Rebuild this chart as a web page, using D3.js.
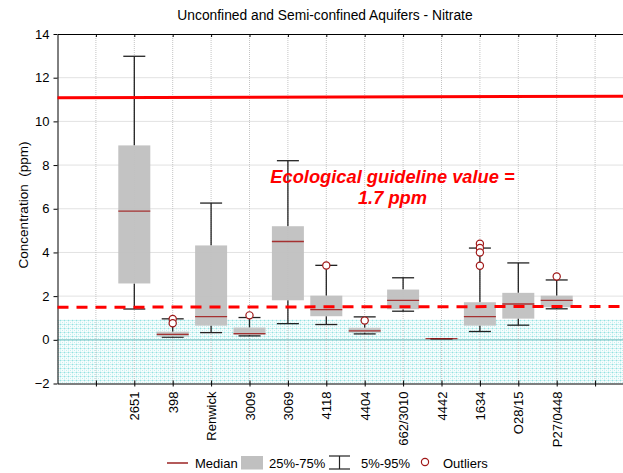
<!DOCTYPE html>
<html><head><meta charset="utf-8">
<script src="https://cdn.jsdelivr.net/npm/d3@7"></script>
<style>body{margin:0;background:#fff}svg{display:block;font-family:Arial,"Liberation Sans",sans-serif}</style>
</head><body><svg id="c" width="623" height="473"></svg>
<script>
// ---- data ----
const categories = ["", "2651","398","Renwick","3009","3069","4118","4404","662/3010","4442","1634","O28/15","P27/0448",""];
const p05    = [1.41, 0.12, 0.33, 0.18, 0.74, 0.70, 0.27, 1.31, 0.05, 0.38, 0.67, 1.42];
const q1     = [2.58, 0.15, 0.65, 0.22, 1.81, 1.08, 0.33, 1.40, 0.05, 0.65, 0.97, 1.49];
const median = [5.89, 0.25, 1.06, 0.28, 4.50, 1.38, 0.41, 1.81, 0.05, 1.06, 1.64, 1.81];
const q3     = [8.90, 0.37, 4.32, 0.56, 5.20, 2.02, 0.55, 2.30, 0.05, 1.72, 2.15, 2.02];
const p95    = [12.98,0.96, 6.26, 1.02, 8.20, 3.41, 1.05, 2.84, 0.05, 4.20, 3.52, 2.74];
const outliers = [[],[0.95,0.76],[],[1.12],[],[3.40],[0.88],[],[],[4.40,4.20,4.00,3.39],[],[2.90]];
const yTicks = [-2,0,2,4,6,8,10,12,14];
const drinkingLine = [11.08, 11.15];   // solid red line (left, right)
const ecoLine = [1.49, 1.53];          // dashed red line (left, right)
const bandTop = 0.93;                  // cyan band upper value
const titleText = "Unconfined and Semi-confined Aquifers - Nitrate";
const yLabel = "Concentration  (ppm)";
const annotation = ["Ecological guideline value =", "1.7 ppm"];
const legendItems = ["Median", "25%-75%", "5%-95%", "Outliers"];

// ---- layout ----
const svg = d3.select("#c");
const L = 57.5, T = 34, B = 383.5, R = 633.5;
const x = d3.scalePoint().domain(d3.range(categories.length)).range([L, R]).padding(1);
const y = d3.scaleLinear().domain([-2, 14]).range([B, T]);
const boxW = 32, capW = 22;
const red = "#ff0000", medCol = "#a01818", boxCol = "#c0c0c0", whisk = "#222";

const defs = svg.append("defs");
const pat = defs.append("pattern").attr("id","dots").attr("patternUnits","userSpaceOnUse")
  .attr("width",4).attr("height",4);
pat.append("rect").attr("width",4).attr("height",4).attr("fill","#f8fdfd");
pat.append("rect").attr("x",0).attr("y",0).attr("width",4).attr("height",1).attr("fill","#cdf2f2");
pat.append("rect").attr("x",0).attr("y",0).attr("width",1).attr("height",4).attr("fill","#d8f6f6");
pat.append("rect").attr("x",0).attr("y",0).attr("width",1).attr("height",1).attr("fill","#94e0e0");
pat.append("rect").attr("x",2).attr("y",2).attr("width",1).attr("height",1).attr("fill","#c0eeee");

// band
svg.append("rect").attr("x",L).attr("y",y(bandTop)).attr("width",R-L).attr("height",y(-2)-y(bandTop))
  .attr("fill","url(#dots)");

// grid
const grid = svg.append("g").attr("stroke","#c4c4c4").attr("stroke-width",1).attr("stroke-dasharray","1,1");
yTicks.forEach(t => { if (t>-2 && t<14) grid.append("line").attr("x1",L).attr("x2",R).attr("y1",y(t)).attr("y2",y(t)); });
d3.range(categories.length).forEach(i => grid.append("line").attr("x1",x(i)).attr("x2",x(i)).attr("y1",T).attr("y2",B));
svg.append("line").attr("x1",L).attr("x2",R).attr("y1",y(0)).attr("y2",y(0)).attr("stroke","#7cc8c8").attr("stroke-width",1);

// axes frame
const yAxis = svg.append("g").attr("transform",`translate(${L},0)`)
  .call(d3.axisLeft(y).tickValues(yTicks).tickSize(4).tickSizeOuter(0).tickPadding(4));
yAxis.selectAll("text").attr("font-size",13).attr("fill","#000").attr("font-family","Arial,'Liberation Sans',sans-serif");
yAxis.select(".domain").attr("stroke","#000");
const xAxis = svg.append("g").attr("transform",`translate(0,${B})`)
  .call(d3.axisBottom(x).tickFormat(i => categories[i]).tickSize(3).tickSizeOuter(0).tickPadding(8));
xAxis.select(".domain").attr("stroke","#000");
xAxis.selectAll("line").attr("y1",-3).attr("y2",3);
xAxis.selectAll("text").attr("font-size",13).attr("fill","#000")
  .attr("font-family","Arial,'Liberation Sans',sans-serif")
  .attr("transform","rotate(-90)").attr("text-anchor","end").attr("x",-8).attr("y",0).attr("dy","0.35em");
const topAxis = svg.append("g").attr("transform",`translate(0,${T})`)
  .call(d3.axisTop(x).tickFormat("").tickSize(-3).tickSizeOuter(0));
topAxis.select(".domain").attr("stroke","#000");

// boxes
const g = svg.append("g");
categories.slice(1,13).forEach((c, k) => {
  const cx = x(k+1);
  g.append("line").attr("x1",cx).attr("x2",cx).attr("y1",y(p95[k])).attr("y2",y(q3[k])).attr("stroke",whisk).attr("stroke-width",1.3);
  g.append("line").attr("x1",cx).attr("x2",cx).attr("y1",y(q1[k])).attr("y2",y(p05[k])).attr("stroke",whisk).attr("stroke-width",1.3);
  g.append("line").attr("x1",cx-capW/2).attr("x2",cx+capW/2).attr("y1",y(p95[k])).attr("y2",y(p95[k])).attr("stroke",whisk).attr("stroke-width",1.3);
  g.append("line").attr("x1",cx-capW/2).attr("x2",cx+capW/2).attr("y1",y(p05[k])).attr("y2",y(p05[k])).attr("stroke",whisk).attr("stroke-width",1.3);
  g.append("rect").attr("x",cx-boxW/2).attr("width",boxW).attr("y",y(q3[k])).attr("height",Math.max(0,y(q1[k])-y(q3[k])))
    .attr("fill",boxCol).attr("opacity",0.95);
  g.append("line").attr("x1",cx-boxW/2).attr("x2",cx+boxW/2).attr("y1",y(median[k])).attr("y2",y(median[k]))
    .attr("stroke",medCol).attr("stroke-width",1.3).attr("opacity",0.85);
  outliers[k].forEach(v => g.append("circle").attr("cx",cx).attr("cy",y(v)).attr("r",3.6)
    .attr("fill","#fff").attr("stroke","#a01818").attr("stroke-width",1.2));
});

// reference lines
svg.append("line").attr("x1",L).attr("x2",R).attr("y1",y(drinkingLine[0])).attr("y2",y(drinkingLine[1]))
  .attr("stroke",red).attr("stroke-width",3);
svg.append("line").attr("x1",L).attr("x2",R).attr("y1",y(ecoLine[0])).attr("y2",y(ecoLine[1]))
  .attr("stroke",red).attr("stroke-width",3).attr("stroke-dasharray","11,8");

// annotation
svg.append("text").attr("x",392.5).attr("y",182.5).attr("text-anchor","middle").attr("font-size",18.3)
  .attr("font-weight","bold").attr("font-style","italic").attr("fill",red).text(annotation[0]);
svg.append("text").attr("x",392.5).attr("y",203.5).attr("text-anchor","middle").attr("font-size",18.3)
  .attr("font-weight","bold").attr("font-style","italic").attr("fill",red).text(annotation[1]);

// title and y label
svg.append("text").attr("x",325).attr("y",20).attr("text-anchor","middle").attr("font-size",13.8).text(titleText);
svg.append("text").attr("transform",`translate(28,205) rotate(-90)`).attr("text-anchor","middle")
  .attr("font-size",13.5).style("white-space","pre").text(yLabel);

// legend
const lg = svg.append("g").attr("font-size",13);
const ly = 463;
lg.append("line").attr("x1",167).attr("x2",188).attr("y1",ly).attr("y2",ly).attr("stroke","#8b0000").attr("stroke-width",1.3);
lg.append("text").attr("x",195).attr("y",ly).attr("dy","0.35em").text(legendItems[0]);
lg.append("rect").attr("x",241).attr("y",ly-7).attr("width",22).attr("height",13.5).attr("fill",boxCol);
lg.append("text").attr("x",269).attr("y",ly).attr("dy","0.35em").text(legendItems[1]);
lg.append("line").attr("x1",329).attr("x2",350).attr("y1",ly-7).attr("y2",ly-7).attr("stroke",whisk).attr("stroke-width",1.2);
lg.append("line").attr("x1",329).attr("x2",350).attr("y1",ly+6).attr("y2",ly+6).attr("stroke",whisk).attr("stroke-width",1.2);
lg.append("line").attr("x1",339.5).attr("x2",339.5).attr("y1",ly-7).attr("y2",ly+6).attr("stroke",whisk).attr("stroke-width",1.2);
lg.append("text").attr("x",361).attr("y",ly).attr("dy","0.35em").text(legendItems[2]);
lg.append("circle").attr("cx",425).attr("cy",ly-1).attr("r",3.6).attr("fill","#fff").attr("stroke","#a01818").attr("stroke-width",1.2);
lg.append("text").attr("x",443).attr("y",ly).attr("dy","0.35em").text(legendItems[3]);
</script></body></html>
